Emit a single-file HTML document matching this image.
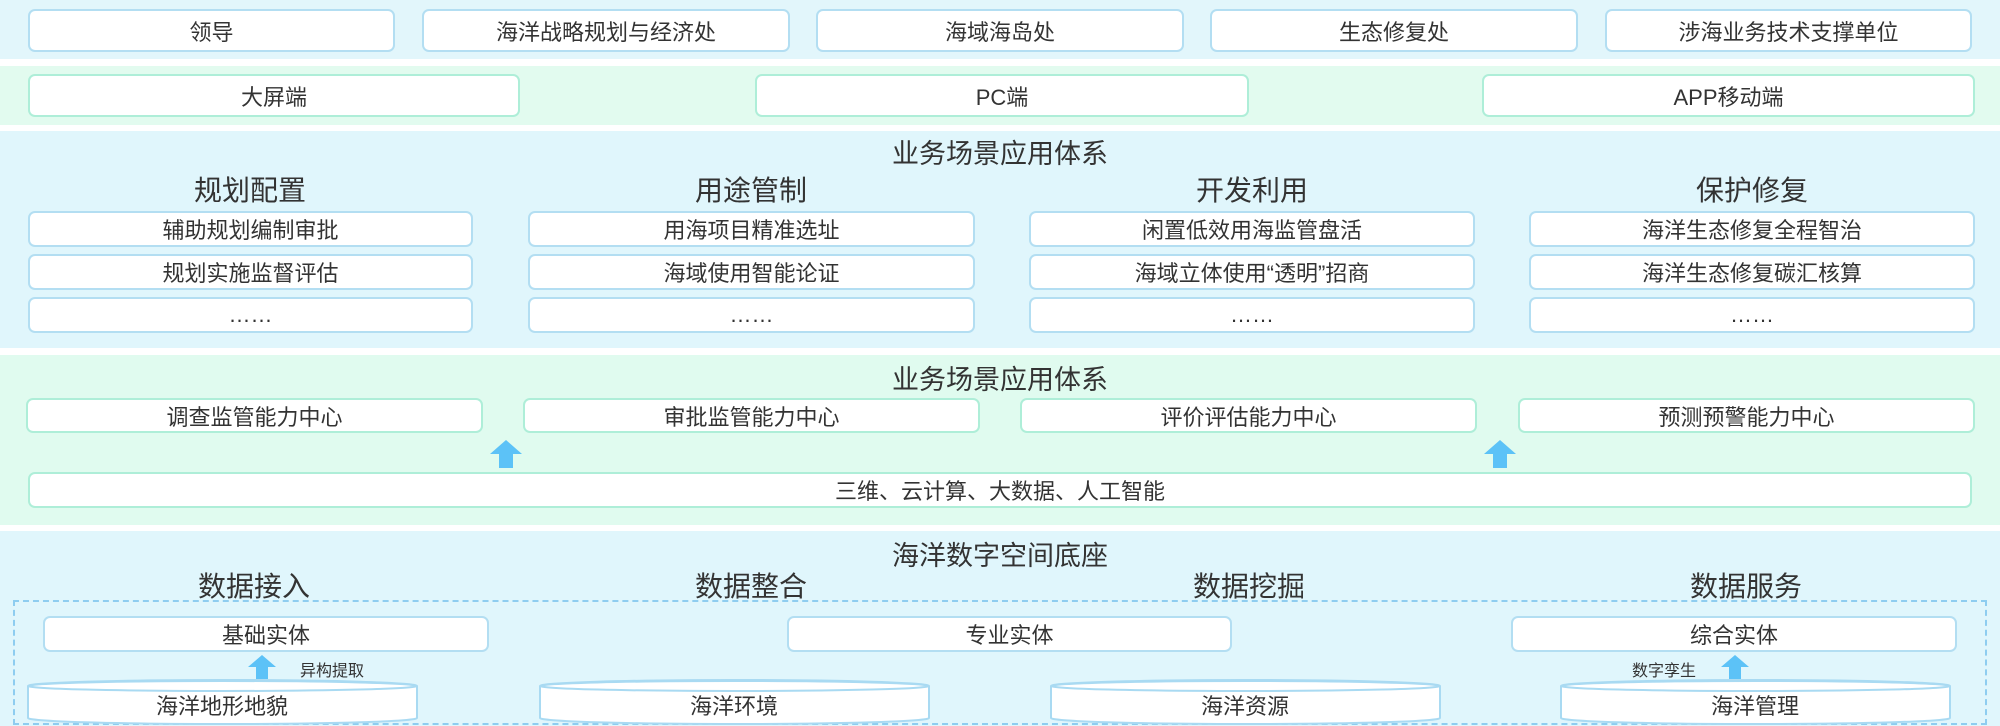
<!DOCTYPE html>
<html><head><meta charset="utf-8"><style>
*{margin:0;padding:0;box-sizing:border-box}
body{width:2000px;height:726px;position:relative;background:#fff;font-family:"Liberation Sans","Noto Sans CJK SC",sans-serif;color:#333;overflow:hidden}
.band{position:absolute;left:0;width:2000px}
.b{position:absolute;background:#fff;border:2px solid #b3def2;border-radius:7px;display:flex;align-items:center;justify-content:center;font-size:22px}
.g{border-color:#aeeed8}
.t{position:absolute;text-align:center;font-size:27px;white-space:nowrap;transform:translateX(-50%)}
.h{position:absolute;text-align:center;font-size:28px;white-space:nowrap;transform:translateX(-50%)}
.s{position:absolute;font-size:16px;white-space:nowrap}
</style></head><body>
<div class="band" style="top:0;height:59px;background:#e2f6fb"></div>
<div class="band" style="top:66px;height:59px;background:#e2fbef"></div>
<div class="band" style="top:131px;height:217px;background:#e0f6fc"></div>
<div class="band" style="top:355px;height:170px;background:#e0fbef"></div>
<div class="band" style="top:531px;height:195px;background:#e0f6fc"></div>

<div class="b" style="left:28px;top:9px;width:367px;height:43px">领导</div>
<div class="b" style="left:422px;top:9px;width:368px;height:43px">海洋战略规划与经济处</div>
<div class="b" style="left:816px;top:9px;width:368px;height:43px">海域海岛处</div>
<div class="b" style="left:1210px;top:9px;width:368px;height:43px">生态修复处</div>
<div class="b" style="left:1605px;top:9px;width:367px;height:43px">涉海业务技术支撑单位</div>

<div class="b g" style="left:28px;top:74px;width:492px;height:43px">大屏端</div>
<div class="b g" style="left:755px;top:74px;width:494px;height:43px">PC端</div>
<div class="b g" style="left:1482px;top:74px;width:493px;height:43px">APP移动端</div>

<div class="t" style="left:1000px;top:132px">业务场景应用体系</div>
<div class="h" style="left:250px;top:169px">规划配置</div>
<div class="h" style="left:751px;top:169px">用途管制</div>
<div class="h" style="left:1252px;top:169px">开发利用</div>
<div class="h" style="left:1752px;top:169px">保护修复</div>

<div class="b" style="left:28px;top:211px;width:445px;height:36px">辅助规划编制审批</div>
<div class="b" style="left:28px;top:254px;width:445px;height:36px">规划实施监督评估</div>
<div class="b" style="left:28px;top:297px;width:445px;height:36px">……</div>
<div class="b" style="left:528px;top:211px;width:447px;height:36px">用海项目精准选址</div>
<div class="b" style="left:528px;top:254px;width:447px;height:36px">海域使用智能论证</div>
<div class="b" style="left:528px;top:297px;width:447px;height:36px">……</div>
<div class="b" style="left:1029px;top:211px;width:446px;height:36px">闲置低效用海监管盘活</div>
<div class="b" style="left:1029px;top:254px;width:446px;height:36px">海域立体使用“透明”招商</div>
<div class="b" style="left:1029px;top:297px;width:446px;height:36px">……</div>
<div class="b" style="left:1529px;top:211px;width:446px;height:36px">海洋生态修复全程智治</div>
<div class="b" style="left:1529px;top:254px;width:446px;height:36px">海洋生态修复碳汇核算</div>
<div class="b" style="left:1529px;top:297px;width:446px;height:36px">……</div>

<div class="t" style="left:1000px;top:358px">业务场景应用体系</div>
<div class="b g" style="left:26px;top:398px;width:457px;height:35px">调查监管能力中心</div>
<div class="b g" style="left:523px;top:398px;width:457px;height:35px">审批监管能力中心</div>
<div class="b g" style="left:1020px;top:398px;width:457px;height:35px">评价评估能力中心</div>
<div class="b g" style="left:1518px;top:398px;width:457px;height:35px">预测预警能力中心</div>
<svg style="position:absolute;left:490px;top:440px" width="32" height="28"><polygon points="16,0 32,14 23,14 23,28 9,28 9,14 0,14" fill="#5cc2f7"/></svg>
<svg style="position:absolute;left:1484px;top:440px" width="32" height="28"><polygon points="16,0 32,14 23,14 23,28 9,28 9,14 0,14" fill="#5cc2f7"/></svg>
<div class="b g" style="left:28px;top:472px;width:1944px;height:36px">三维、云计算、大数据、人工智能</div>

<div class="t" style="left:1000px;top:534px">海洋数字空间底座</div>
<div class="h" style="left:254px;top:565px">数据接入</div>
<div class="h" style="left:751px;top:565px">数据整合</div>
<div class="h" style="left:1249px;top:565px">数据挖掘</div>
<div class="h" style="left:1746px;top:565px">数据服务</div>
<div style="position:absolute;left:13px;top:600px;width:1974px;height:125px;border:2px dashed #8ecdf0"></div>

<div class="b" style="left:43px;top:616px;width:446px;height:36px">基础实体</div>
<div class="b" style="left:787px;top:616px;width:445px;height:36px">专业实体</div>
<div class="b" style="left:1511px;top:616px;width:446px;height:36px">综合实体</div>
<svg style="position:absolute;left:248px;top:655px" width="28" height="24"><polygon points="14,0 28,12 20,12 20,24 8,24 8,12 0,12" fill="#5cc2f7"/></svg>
<div class="s" style="left:300px;top:657px">异构提取</div>
<svg style="position:absolute;left:1721px;top:655px" width="28" height="24"><polygon points="14,0 28,12 20,12 20,24 8,24 8,12 0,12" fill="#5cc2f7"/></svg>
<div class="s" style="left:1632px;top:657px">数字孪生</div>

<svg style="position:absolute;left:0;top:676px" width="2000" height="50">
<g fill="#fff" stroke="#a9daf2" stroke-width="2">
<path d="M28,10 A194,6 0 0 1 417,10 L417,42 A194,6 0 0 1 28,42 Z"/><ellipse cx="222.5" cy="10" rx="194" ry="5"/>
<path d="M540,10 A194,6 0 0 1 929,10 L929,42 A194,6 0 0 1 540,42 Z"/><ellipse cx="734.5" cy="10" rx="194" ry="5"/>
<path d="M1051,10 A194,6 0 0 1 1440,10 L1440,42 A194,6 0 0 1 1051,42 Z"/><ellipse cx="1245.5" cy="10" rx="194" ry="5"/>
<path d="M1561,10 A194,6 0 0 1 1950,10 L1950,42 A194,6 0 0 1 1561,42 Z"/><ellipse cx="1755.5" cy="10" rx="194" ry="5"/>
</g>
<g font-size="22" fill="#333" text-anchor="middle" font-family="Liberation Sans, Noto Sans CJK SC, sans-serif">
<text x="222" y="38">海洋地形地貌</text><text x="734" y="38">海洋环境</text><text x="1245" y="38">海洋资源</text><text x="1755" y="38">海洋管理</text>
</g></svg>
</body></html>
